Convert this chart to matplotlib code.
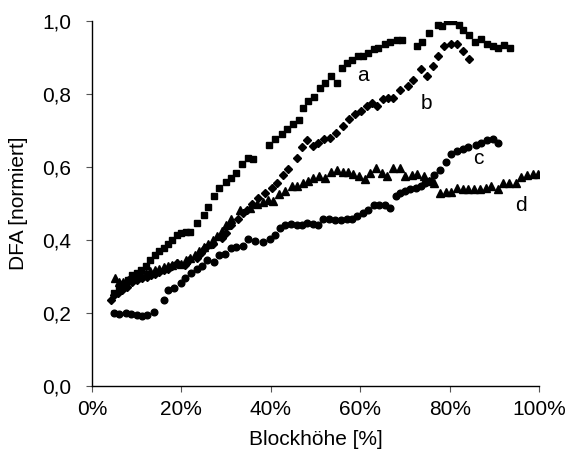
"""
DFA (normalised) versus block height for four series a-d.
"""

import matplotlib
matplotlib.use('Agg')
import matplotlib.pyplot as plt
from matplotlib.ticker import FuncFormatter

plt.rcParams['font.family'] = ['Liberation Sans', 'DejaVu Sans']

# ── data (block height in %, DFA normalised) ─────────────────────────────────
A_X = [5, 6, 7, 8, 9, 10, 11, 12, 13, 14, 15, 16, 17, 18, 19, 20, 21, 22,
       23.5, 25, 26, 27.4, 28.5, 30, 31, 32.2, 33.5, 34.8, 36, 39.5, 40.9,
       42.5, 43.6, 45, 46.3, 47.2, 48.3, 49.7, 51, 52.1, 53.5, 54.8, 56, 57,
       58.2, 59.6, 60.7, 61.8, 63, 64, 65.6, 66.7, 68.3, 69.4, 72.8, 73.9,
       75.3, 77.3, 78.2, 79.5, 80.7, 82, 83.1, 84.3, 85.6, 87, 88.3, 89.7,
       90.8, 92.1, 93.5]
A_Y = [0.254, 0.27, 0.28, 0.29, 0.303, 0.31, 0.317, 0.33, 0.345, 0.36, 0.37,
       0.377, 0.39, 0.40, 0.415, 0.42, 0.423, 0.423, 0.448, 0.47, 0.49, 0.52,
       0.543, 0.56, 0.57, 0.585, 0.609, 0.625, 0.622, 0.66, 0.677, 0.69,
       0.704, 0.718, 0.73, 0.763, 0.781, 0.792, 0.817, 0.83, 0.85, 0.83,
       0.872, 0.885, 0.893, 0.904, 0.904, 0.913, 0.923, 0.926, 0.937, 0.943,
       0.948, 0.948, 0.932, 0.943, 0.967, 0.99, 0.986, 1.0, 1.0, 0.989,
       0.975, 0.962, 0.943, 0.95, 0.937, 0.932, 0.926, 0.934, 0.926]

B_X = [4.3, 4.9, 5.8, 6.7, 7.8, 9, 10, 11.2, 12.2, 13.3, 14.2, 15, 16, 16.9,
       18, 18.9, 20.7, 21.8, 23.4, 24.3, 25.2, 27, 29, 30, 31, 32.6, 33.7,
       34.6, 35.7, 37.1, 38.7, 40.2, 41.3, 42.7, 43.8, 45.8, 47, 48.1, 49.4,
       50.6, 51.9, 53.3, 54.6, 56.2, 57.5, 58.9, 60.2, 61.6, 62.7, 63.8,
       65.2, 66.3, 67.4, 69, 70.6, 71.9, 73.5, 75, 76.2, 77.3, 78.7, 80.2,
       81.6, 82.9, 84.3]
B_Y = [0.235, 0.249, 0.255, 0.262, 0.272, 0.284, 0.29, 0.295, 0.3, 0.303,
       0.308, 0.312, 0.317, 0.322, 0.33, 0.336, 0.331, 0.344, 0.352, 0.365,
       0.377, 0.39, 0.407, 0.42, 0.44, 0.459, 0.475, 0.483, 0.5, 0.516, 0.53,
       0.544, 0.557, 0.577, 0.596, 0.626, 0.656, 0.675, 0.658, 0.667, 0.678,
       0.68, 0.694, 0.713, 0.732, 0.746, 0.754, 0.768, 0.776, 0.768, 0.787,
       0.79, 0.79, 0.81, 0.822, 0.839, 0.869, 0.85, 0.877, 0.904, 0.932,
       0.937, 0.937, 0.918, 0.896]

C_X = [4.9, 6.1, 7.6, 8.8, 10.1, 11.2, 12.4, 13.9, 16, 17.1, 18.4, 19.8,
       20.9, 22.2, 23.4, 24.7, 25.8, 27.2, 28.5, 29.7, 31.2, 32.3, 33.7,
       34.8, 36.5, 38.2, 39.8, 40.9, 42, 43.1, 44.5, 45.8, 47, 48.1, 49.4,
       50.6, 51.7, 53, 54.4, 55.7, 57.1, 58.2, 59.3, 60.7, 61.8, 63.1, 64.3,
       65.6, 66.7, 67.9, 69, 70.1, 71.2, 72.4, 73.5, 74.6, 75.5, 76.4, 77.8,
       79.1, 80.4, 81.6, 82.9, 84, 85.8, 87, 88.3, 89.7, 90.8]
C_Y = [0.199, 0.197, 0.199, 0.197, 0.194, 0.191, 0.195, 0.202, 0.235, 0.262,
       0.268, 0.281, 0.295, 0.311, 0.322, 0.33, 0.344, 0.339, 0.358, 0.363,
       0.377, 0.38, 0.385, 0.404, 0.398, 0.396, 0.404, 0.413, 0.434, 0.44,
       0.445, 0.44, 0.44, 0.448, 0.445, 0.44, 0.459, 0.459, 0.454, 0.454,
       0.459, 0.459, 0.467, 0.473, 0.481, 0.495, 0.495, 0.495, 0.489, 0.522,
       0.53, 0.535, 0.541, 0.544, 0.549, 0.555, 0.563, 0.579, 0.593, 0.615,
       0.637, 0.645, 0.65, 0.656, 0.661, 0.667, 0.675, 0.678, 0.667]

D_X = [5.2, 6.1, 7, 8, 9, 10, 11, 12, 13, 14, 15, 16, 17, 18, 19, 20, 21, 22,
       23, 24, 25, 26, 27, 28, 29, 30, 31.2, 33, 35.3, 36.9, 38.2, 39.3,
       40.4, 41.8, 43.1, 44.7, 45.8, 47.2, 48.3, 49.4, 50.8, 52.1, 53.5,
       54.8, 56.2, 57.3, 58.4, 59.8, 61.1, 62.2, 63.6, 64.9, 66.1, 67.4,
       68.8, 70.1, 71.5, 72.8, 74.2, 75.3, 76.4, 77.8, 79.1, 80.4, 81.6,
       82.9, 84.1, 85.4, 86.7, 88.1, 89.2, 90.8, 91.9, 93.3, 94.8, 96, 97.3,
       98.7, 99.8]
D_Y = [0.295, 0.284, 0.285, 0.29, 0.295, 0.3, 0.305, 0.31, 0.315, 0.318,
       0.32, 0.325, 0.328, 0.332, 0.338, 0.335, 0.345, 0.35, 0.36, 0.37,
       0.38, 0.39, 0.40, 0.41, 0.425, 0.44, 0.459, 0.481, 0.489, 0.5, 0.503,
       0.511, 0.508, 0.527, 0.535, 0.549, 0.549, 0.555, 0.563, 0.571, 0.576,
       0.571, 0.587, 0.593, 0.587, 0.587, 0.582, 0.576, 0.566, 0.585, 0.598,
       0.585, 0.576, 0.598, 0.598, 0.576, 0.579, 0.582, 0.576, 0.563, 0.555,
       0.53, 0.533, 0.533, 0.544, 0.541, 0.541, 0.541, 0.541, 0.544, 0.549,
       0.541, 0.557, 0.557, 0.555, 0.574, 0.579, 0.582, 0.582]

LABELS   = ['a', 'b', 'c', 'd']
LABEL_XY = [(60.7, 0.85), (74.8, 0.773), (86.5, 0.623), (96, 0.495)]

# ── figure ────────────────────────────────────────────────────────────────────
fig = plt.figure(figsize=(5.68, 4.59), dpi=100)
ax = fig.add_axes([0.162, 0.159, 0.787, 0.795])

ax.plot(A_X, A_Y, ls='none', marker='s', ms=4.8, color='black')
ax.plot(B_X, B_Y, ls='none', marker='D', ms=4.2, color='black')
ax.plot(C_X, C_Y, ls='none', marker='o', ms=4.8, color='black')
ax.plot(D_X, D_Y, ls='none', marker='^', ms=5.2, color='black')

for lab, (x, y) in zip(LABELS, LABEL_XY):
    ax.text(x, y, lab, fontsize=15, ha='center', va='center')

ax.set_xlim(0, 100)
ax.set_ylim(0, 1.0)
ax.set_xticks([0, 20, 40, 60, 80, 100])
ax.set_yticks([0, 0.2, 0.4, 0.6, 0.8, 1.0])
ax.xaxis.set_major_formatter(FuncFormatter(lambda v, _: f'{v:.0f}%'))
ax.yaxis.set_major_formatter(FuncFormatter(lambda v, _: f'{v:.1f}'.replace('.', ',')))
ax.tick_params(direction='out', length=4, width=0.8, labelsize=15, color='#555555')
ax.tick_params(axis='y', pad=11)
ax.tick_params(axis='x', pad=6)

for side in ['top', 'right']:
    ax.spines[side].set_visible(False)
for side in ['left', 'bottom']:
    ax.spines[side].set_linewidth(1.0)

ax.set_xlabel('Blockhöhe [%]', fontsize=15, labelpad=8)
ax.set_ylabel('DFA [normiert]', fontsize=15, labelpad=10)

fig.savefig('out.png', dpi=100)
plt.close(fig)
